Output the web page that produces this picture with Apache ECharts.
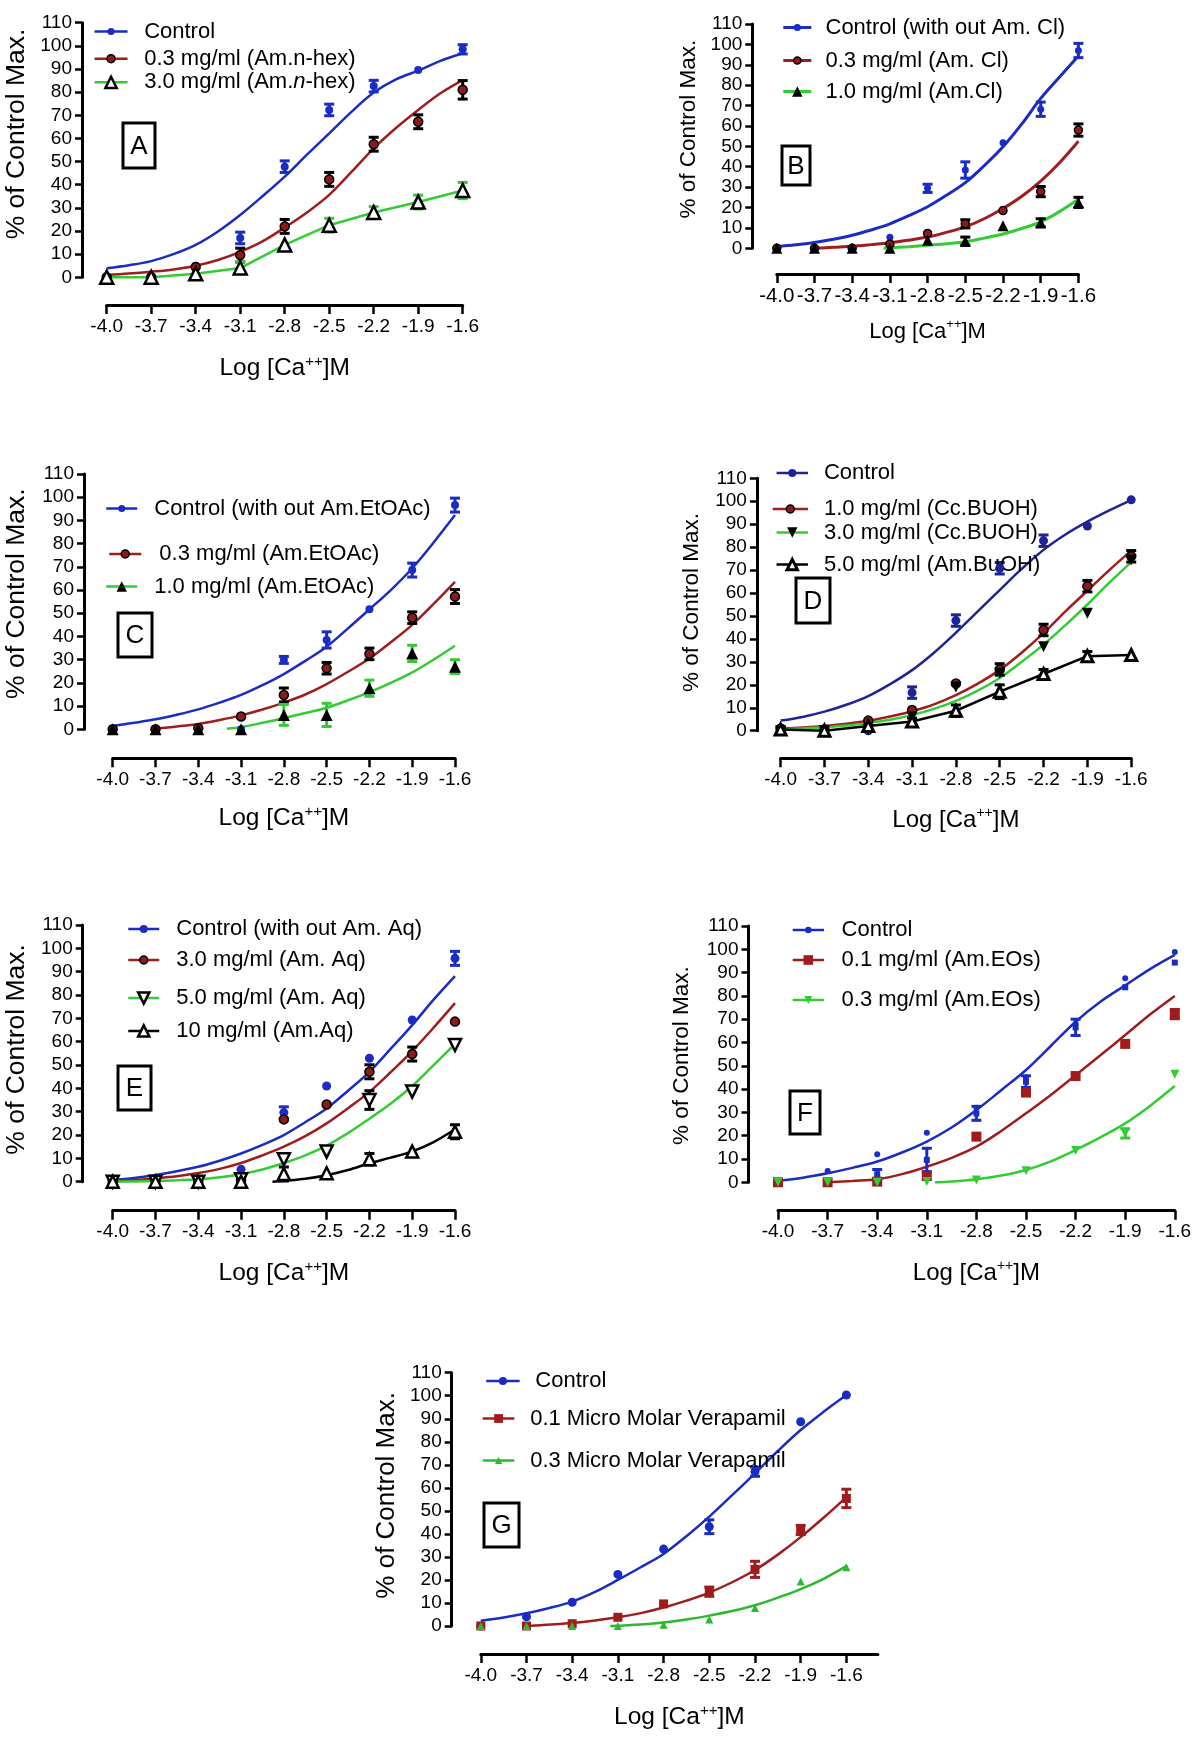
<!DOCTYPE html>
<html><head><meta charset="utf-8">
<script src="https://cdn.jsdelivr.net/npm/echarts@6/dist/echarts.min.js"></script>
<style>html,body{margin:0;padding:0;background:#fff}#c{width:1200px;height:1737px}</style>
</head><body><div id="c"></div>
<script>
// ---------------- data ----------------
const xTickLabels = ['-4.0','-3.7','-3.4','-3.1','-2.8','-2.5','-2.2','-1.9','-1.6'];
const xDose = [-4.0,-3.7,-3.4,-3.1,-2.8,-2.5,-2.2,-1.9,-1.6];
const fitX = [-4.0,-3.85,-3.7,-3.55,-3.4,-3.25,-3.1,-2.95,-2.8,-2.65,-2.5,-2.35,-2.2,-2.05,-1.9,-1.75,-1.6];
const yTitle = '% of Control Max.';
const xTitle = 'Log [Ca{sup|++}]M';

// Panel A
const A_ctrl = [0, 0, 5, 17, 47.8, 72.3, 82.6, 89.6, 98.5];
const A_ctrlErr = [0, 0, 0, 2.5, 2.5, 2.5, 2.5, 0, 2];
const A_ctrlFit = [3.9, 5.2, 7.0, 10.0, 14.0, 19.8, 26.9, 35.0, 43.5, 53.0, 62.2, 71.5, 79.8, 85.5, 89.3, 93.5, 96.8];
const A_hex03 = [0, 0, 4.5, 9.6, 22, 42.3, 57.5, 67.2, 81];
const A_hex03Err = [0, 0, 0, 3, 3, 3, 3, 3, 4];
const A_hex03Fit = [1, 1.6, 2.4, 3.4, 5, 7.5, 11, 15.5, 21.5, 28, 35.6, 45.5, 55.7, 64.5, 72.3, 79.5, 85.2];
const A_hex30 = [0, 0, 1.5, 4, 14, 22.5, 28, 32.5, 37.5];
const A_hex30Err = [0, 0, 0, 2.5, 0, 3, 2.5, 3, 3.5];

// Panel B
const B_ctrl = [0, 0, 0, 5.4, 29.4, 38.4, 51.8, 68.2, 97];
const B_ctrlErr = [0, 0, 0, 0, 2, 4, 0, 3.5, 3.5];
const B_ctrlFit = [0.8, 1.7, 2.8, 4.4, 6.4, 9, 12, 16, 20.4, 26, 32.2, 40.5, 49.8, 61, 73.5, 84, 94.3];
const B_cl03 = [0, 0, 0, 2, 7.3, 12, 18.5, 27.8, 58];
const B_cl03Err = [0, 0, 0, 0, 0, 2, 0, 2.5, 3];
const B_cl03Fit = [null, null, 0, 0.5, 1, 1.8, 2.7, 4, 5.5, 7.8, 10.5, 14.5, 19.5, 25.5, 33, 42, 52.5];
const B_cl10 = [0, 0, 0, 0, 4, 3.5, 11, 12.5, 22.5];
const B_cl10Err = [0, 0, 0, 0, 0, 2, 0, 2, 2.5];
const B_cl10Fit = [[-3.15,0],[-2.95,0.8],[-2.8,1.5],[-2.65,2.2],[-2.5,3.2],[-2.35,5],[-2.2,7],[-2.05,9.7],[-1.9,13],[-1.75,18],[-1.6,24]];

// Panel C
const C_ctrl = [0, 0, 0, 0, 29.9, 38.5, 51.7, 68.6, 96.6];
const C_ctrlErr = [0, 0, 0, 0, 1.5, 3.5, 0, 3, 3];
const C_ctrlFit = [1.4, 2.8, 4.3, 6.3, 8.6, 11.5, 14.8, 19, 23.8, 29.5, 35.6, 43.5, 51.7, 60, 69.4, 80.5, 92.3];
const C_et03 = [0, 0, 0.5, 5.5, 14.8, 26.3, 32.5, 48.1, 57.2];
const C_et03Err = [0, 0, 0, 0, 3, 2.5, 2.5, 2.5, 3];
const C_et03Fit = [null, null, 0.3, 1.2, 2.3, 4, 6, 8.5, 11.5, 15, 19.5, 24.8, 30.5, 37.5, 45, 54, 63.5];
const C_et10 = [0, 0, 0, 0, 6.2, 6.2, 17.7, 32.7, 27];
const C_et10Err = [0, 0, 0, 0, 4.5, 5, 3.5, 3.5, 3];
const C_et10Fit = [[-3.2,0.2],[-3.1,1],[-2.95,2.8],[-2.8,4.8],[-2.65,7],[-2.5,9.3],[-2.35,12.5],[-2.2,16],[-2.05,20],[-1.9,24.5],[-1.75,30],[-1.6,36]];

// Panel D
const D_ctrl = [0, 0, 0, 16.6, 48, 70.8, 82.8, 89.2, 100.6];
const D_ctrlErr = [0, 0, 0, 2.5, 2.5, 2.5, 2.5, 0, 0];
const D_ctrlFit = [4.4, 6, 8.3, 11.3, 15.1, 20.3, 26.4, 34, 42.7, 52, 61.3, 70.5, 78.8, 85.5, 91.1, 96, 100.5];
const D_bu10 = [1, 0.5, 4.4, 9, 20.6, 26.7, 43.9, 63, 76];
const D_bu10Err = [0, 0, 0, 0, 0, 2.5, 2.5, 2.5, 2.5];
const D_bu10Fit = [1, 1.4, 2, 3, 4.3, 6.2, 8.5, 11.5, 15.5, 20.5, 26.5, 34, 42.5, 52, 61, 70, 78.5];
const D_bu30 = [0, 0, 0.5, 6, 19, 25, 36.6, 51.2, 74.4];
const D_bu30Fit = [0.5, 1, 1.5, 2.3, 3.3, 4.8, 6.8, 9.5, 13, 17.5, 23, 30, 37.5, 46, 55, 64.5, 73.5];
const D_bu50 = [0.5, 0, 2, 4, 8.7, 17, 24.7, 32.5, 33];
const D_bu50Err = [1, 0, 0, 1.5, 2.5, 3, 2, 2, 0];

// Panel E
const E_ctrl = [0.5, 0, 0, 5.3, 29.6, 41, 52.9, 69.3, 95.7];
const E_ctrlErr = [0, 0, 0, 0, 2.5, 0, 0, 0, 3];
const E_ctrlFit = [0.7, 1.6, 2.9, 4.5, 6.4, 9, 12.1, 15.8, 20, 25.5, 31.4, 39, 47.1, 57, 67.1, 78, 88.1];
const E_aq3 = [0, 0.5, 0, 0.5, 26.7, 33.1, 47.1, 54.7, 68.6];
const E_aq3Err = [0, 0, 0, 0, 0, 0, 3, 3, 0];
const E_aq3Fit = [0.3, 0.7, 1.4, 2.3, 3.7, 5.5, 8, 11.3, 15, 19.5, 25, 31.5, 38.5, 47, 56, 66, 76.5];
const E_aq5 = [0, 0, 0, 1, 9.6, 12.9, 35, 38.6, 58.6];
const E_aq5Err = [0, 0, 0, 0, 0, 0, 4, 0, 0];
const E_aq5Fit = [0, 0.1, 0.3, 0.6, 1, 1.9, 3.2, 5.2, 8, 11.3, 15.5, 20.8, 27, 33.5, 41, 50, 59];
const E_aq10 = [0, 0, 0, 0, 3.3, 3.6, 9.6, 12.9, 21.4];
const E_aq10Err = [0, 0, 0, 1.5, 3, 0, 2.5, 0, 3];
const E_aq10Fit = [[-2.88,0],[-2.8,0.4],[-2.65,1.3],[-2.5,2.8],[-2.35,5],[-2.2,7.9],[-2.05,10.3],[-1.9,13],[-1.75,17],[-1.6,22.5]];

// Panel F
const F_ctrl = [0.5, 4.9, 12, 21.3, 32, 45, 68, 87.6, 98.8];
const F_ctrlFit = [0.7, 2, 3.9, 6.2, 8.9, 12.8, 17.5, 23.5, 31, 39.5, 48.2, 58.5, 68.9, 77.5, 84.5, 91.5, 97.6];
const F_ctrlSem = [null, null, 3.5, 9.6, 29.6, 43.2, 66.5, 83.7, 94.3];
const F_ctrlSemErr = [0, 0, 2, 5, 3, 2.5, 3.5, 0, 0];
const F_eo01 = [0, 0, 0.3, 2.7, 19.6, 38.5, 45.6, 59.4, 72.2];
const F_eo01Err = [0, 0, 0, 0, 0, 0, 0, 0, 2];
const F_eo01Fit = [null, null, 0, 0.6, 1.3, 3.5, 6.7, 10.5, 15.3, 22, 29.6, 37.5, 46, 54.5, 63.2, 72, 80];
const F_eo03 = [0, 0, 0, 0.3, 1, 5, 13.6, 21, 46.4];
const F_eo03Err = [0, 0, 0, 0, 0, 0, 0, 2, 0];
const F_eo03Fit = [[-3.05,0],[-2.95,0.3],[-2.8,1.3],[-2.65,2.9],[-2.5,5.3],[-2.35,9],[-2.2,13.9],[-2.05,19.3],[-1.9,25.3],[-1.75,32.8],[-1.6,41.3]];

// Panel G
const G_ctrl = [0, 4, 10.3, 22.4, 33.4, 43.1, 67, 88.7, 100.3];
const G_ctrlErr = [0, 0, 0, 0, 0, 3, 2, 0, 0];
const G_ctrlFit = [2.3, 3.7, 5.5, 7.8, 10.6, 14.8, 20, 25.5, 31.3, 39, 47.5, 56.8, 66.3, 76, 85.1, 93, 100.3];
const G_ver01 = [0, 0, 1, 3.8, 9.6, 14.9, 24.6, 41.7, 55.4];
const G_ver01Err = [0, 0, 0, 0, 0, 2, 3.5, 2, 4];
const G_ver01Fit = [null, null, 0, 0.6, 1.3, 2.4, 3.8, 5.6, 8, 11, 14.5, 19, 24.3, 31, 38.6, 47, 56];
const G_ver03 = [0, 0, 0, 0, 0.5, 2.8, 7.8, 19.3, 25.5];
const G_ver03Fit = [[-3.15,0],[-2.95,0.7],[-2.8,1.5],[-2.65,2.8],[-2.5,4.5],[-2.35,6.5],[-2.2,9],[-2.05,12.3],[-1.9,16],[-1.75,20.5],[-1.6,26]];

// ---------------- styles / layout ----------------
const FONT = '"Liberation Sans", Arial, Helvetica, sans-serif';
const BLUE = '#1b2cc4', NAVY = '#1e2496', RED = '#a01d1d', DRED = '#8c1a1a', GREEN = '#33cc33', BLACK = '#000';
const LEG_FS = 22;
const TICK_FS = 19;

const panels = [
 { id:'A', grid:[106.7,22.7,356,254.6], xMax:-1.6, yOff:24.7, xOff:27.7, xGap:49, xFs:24.5, xTickFs:TICK_FS, yGap:52, yFs:26.5, yShift:16, box:[123,123,32,45],
   sets:[
    {label:'Control', pts:A_ctrl, err:A_ctrlErr, fit:A_ctrlFit, sym:'circle', size:8, fill:BLUE, border:BLUE, bw:0, line:BLUE, lw:2.5, errC:BLUE, lg:[93.3,25,33,16.6,9]},
    {label:'0.3 mg/ml (Am.n-hex)', pts:A_hex03, err:A_hex03Err, fit:A_hex03Fit, sym:'circle', size:9, fill:DRED, border:BLACK, bw:1.5, line:RED, lw:2.5, errC:BLACK, lg:[93.3,52.7,33,16.6,10]},
    {label:'3.0 mg/ml (Am.{i|n}-hex)', pts:A_hex30, err:A_hex30Err, fit:'connect', sym:'triangle', size:13, fill:'#fff', border:BLACK, bw:2.5, line:GREEN, lw:2.5, errC:GREEN, lg:[93.3,78.3,33,16.6,14]}
   ]},
 { id:'B', grid:[776.8,24,301.6,224.3], xMax:-1.6, yOff:24.5, xOff:25.7, xGap:44, xFs:22, xTickFs:20.5, yGap:52.3, yFs:22.5, yShift:7, box:[782,146,28,39],
   sets:[
    {label:'Control (with out Am. Cl)', pts:B_ctrl, err:B_ctrlErr, fit:B_ctrlFit, sym:'circle', size:7, fill:BLUE, border:BLUE, bw:0, line:BLUE, lw:3, errC:BLUE, lg:[781.8,21,28,14.2,9]},
    {label:'0.3 mg/ml (Am. Cl)', pts:B_cl03, err:B_cl03Err, fit:B_cl03Fit, sym:'circle', size:8, fill:DRED, border:BLACK, bw:1.5, line:RED, lw:3, errC:BLACK, lg:[781.8,54,28,14.2,9]},
    {label:'1.0 mg/ml (Am.Cl)', pts:B_cl10, err:B_cl10Err, fit:B_cl10Fit, sym:'triangle', size:11, fill:BLACK, border:BLACK, bw:0, line:GREEN, lw:3, errC:BLACK, lg:[781.8,87,28,14.2,13]}
   ]},
 { id:'C', grid:[112.7,474,342.3,255.3], xMax:-1.6, yOff:28.7, xOff:29, xGap:45.7, xFs:24.5, xTickFs:TICK_FS, yGap:54, yFs:26.5, yShift:8, box:[118,613,34,44],
   sets:[
    {label:'Control (with out Am.EtOAc)', pts:C_ctrl, err:C_ctrlErr, fit:C_ctrlFit, sym:'circle', size:8, fill:BLUE, border:BLUE, bw:0, line:BLUE, lw:2.5, errC:BLUE, lg:[105,502,31,17,9]},
    {label:' 0.3 mg/ml (Am.EtOAc)', pts:C_et03, err:C_et03Err, fit:C_et03Fit, sym:'circle', size:9, fill:DRED, border:BLACK, bw:1.5, line:RED, lw:2.5, errC:BLACK, lg:[108,548,32,12,10]},
    {label:'1.0 mg/ml (Am.EtOAc)', pts:C_et10, err:C_et10Err, fit:C_et10Fit, sym:'triangle', size:12, fill:BLACK, border:BLACK, bw:0, line:GREEN, lw:2.5, errC:GREEN, lg:[105,582,31,17,13]}
   ]},
 { id:'D', grid:[780.6,478.3,350.6,252.4], xMax:-1.6, yOff:23.7, xOff:27.6, xGap:47.7, xFs:24, xTickFs:TICK_FS, yGap:53.9, yFs:22.5, yShift:2, box:[796,578,34,45],
   sets:[
    {label:'Control', pts:D_ctrl, err:D_ctrlErr, fit:D_ctrlFit, sym:'circle', size:9, fill:NAVY, border:NAVY, bw:0, line:NAVY, lw:2.5, errC:NAVY, lg:[775.3,467,31.4,16,10]},
    {label:'1.0 mg/ml (Cc.BUOH)', pts:D_bu10, err:D_bu10Err, fit:D_bu10Fit, sym:'circle', size:9, fill:DRED, border:BLACK, bw:1.5, line:RED, lw:2.5, errC:BLACK, lg:[771.5,503,35.2,16,10]},
    {label:'3.0 mg/ml (Cc.BUOH)', pts:D_bu30, err:null, fit:D_bu30Fit, sym:'triangle', rot:180, size:11, fill:BLACK, border:BLACK, bw:0, line:GREEN, lw:2.5, errC:BLACK, lg:[775.3,528,31.4,16,13]},
    {label:'5.0 mg/ml (Am.BuOH)', pts:D_bu50, err:D_bu50Err, fit:'connect', sym:'triangle', size:11, fill:'#fff', border:BLACK, bw:3, line:BLACK, lw:2.5, errC:BLACK, lg:[775.3,560,31.4,16,13]}
   ]},
 { id:'E', grid:[112.7,925,342.3,256.7], xMax:-1.6, yOff:30, xOff:29, xGap:48.3, xFs:24.5, xTickFs:TICK_FS, yGap:52.7, yFs:26.5, yShift:4, box:[118,1066,33,44],
   sets:[
    {label:'Control (with out Am. Aq)', pts:E_ctrl, err:E_ctrlErr, fit:E_ctrlFit, sym:'circle', size:9, fill:BLUE, border:BLUE, bw:0, line:BLUE, lw:2.5, errC:BLUE, lg:[127,923,31,17,10]},
    {label:'3.0 mg/ml (Am. Aq)', pts:E_aq3, err:E_aq3Err, fit:E_aq3Fit, sym:'circle', size:9, fill:DRED, border:BLACK, bw:1.5, line:RED, lw:2.5, errC:BLACK, lg:[127,954,31,17,10]},
    {label:'5.0 mg/ml (Am. Aq)', pts:E_aq5, err:E_aq5Err, fit:E_aq5Fit, sym:'triangle', rot:180, size:12, fill:'#fff', border:BLACK, bw:2.5, line:GREEN, lw:2.5, errC:BLACK, lg:[127,994,31,17,14]},
    {label:'10 mg/ml (Am.Aq)', pts:E_aq10, err:E_aq10Err, fit:E_aq10Fit, sym:'triangle', size:12, fill:'#fff', border:BLACK, bw:2.5, line:BLACK, lw:2.5, errC:BLACK, lg:[127,1027,31,17,14]}
   ]},
 { id:'F', grid:[778,926,396.8,256.3], xMax:-1.6, yOff:29.5, xOff:28.4, xGap:48.3, xFs:24, xTickFs:TICK_FS, yGap:55, yFs:22.5, yShift:-1.5, box:[790,1091,30,43],
   sets:[
    {label:'Control', pts:F_ctrl, err:null, fit:F_ctrlFit, sym:'circle', size:6, fill:BLUE, border:BLUE, bw:0, line:BLUE, lw:2.5, errC:BLUE, lg:[791.4,923,31.3,17.6,8]},
    {label:null, pts:F_ctrlSem, err:F_ctrlSemErr, fit:null, sym:'rect', size:6, fill:BLUE, border:BLUE, bw:0, line:BLUE, lw:2.5, errC:BLUE},
    {label:'0.1 mg/ml (Am.EOs)', pts:F_eo01, err:F_eo01Err, fit:F_eo01Fit, sym:'rect', size:10, fill:'#a01c1c', border:'#a01c1c', bw:0, line:RED, lw:2.5, errC:RED, lg:[791.4,955,31.3,17.6,12]},
    {label:'0.3 mg/ml (Am.EOs)', pts:F_eo03, err:F_eo03Err, fit:F_eo03Fit, sym:'triangle', rot:180, size:9, fill:GREEN, border:GREEN, bw:0, line:GREEN, lw:2.5, errC:GREEN, lg:[791.4,994,31.3,17.6,10]}
   ]},
 { id:'G', grid:[480.8,1372.7,397.1,253.3], xMax:-1.393, yOff:29.1, xOff:28, xGap:49, xFs:24.5, xTickFs:TICK_FS, yGap:51.9, yFs:26, yShift:4, box:[484,1503,35,44],
   sets:[
    {label:'Control', pts:G_ctrl, err:G_ctrlErr, fit:G_ctrlFit, sym:'circle', size:9, fill:BLUE, border:BLUE, bw:0, line:BLUE, lw:2.5, errC:BLUE, lg:[485,1375,33.4,15.7,10]},
    {label:'0.1 Micro Molar Verapamil', pts:G_ver01, err:G_ver01Err, fit:G_ver01Fit, sym:'rect', size:9, fill:'#a01c1c', border:'#a01c1c', bw:0, line:RED, lw:2.5, errC:RED, lg:[481.5,1413,31.6,15.8,11]},
    {label:'0.3 Micro Molar Verapamil', pts:G_ver03, err:null, fit:G_ver03Fit, sym:'triangle', size:8, fill:'#2db82d', border:'#2db82d', bw:0, line:'#2db82d', lw:2.5, errC:GREEN, lg:[481.5,1454,31.6,15.8,9]}
   ]}
];

// ---------------- build option ----------------
function fitPairs(fit) {
  if (Array.isArray(fit[0])) return fit;
  const out = [];
  fit.forEach((v, i) => { if (v != null) out.push([fitX[i], v]); });
  return out;
}
function errRender(color) {
  return function (params, api) {
    const x = api.value(0), y = api.value(1), e = api.value(2);
    const t = api.coord([x, y + e]), b = api.coord([x, y - e]);
    const cap = 5, st = { stroke: color, lineWidth: 3 };
    return { type: 'group', children: [
      { type: 'line', shape: { x1: t[0], y1: t[1], x2: b[0], y2: b[1] }, style: st },
      { type: 'line', shape: { x1: t[0] - cap, y1: t[1], x2: t[0] + cap, y2: t[1] }, style: st },
      { type: 'line', shape: { x1: b[0] - cap, y1: b[1], x2: b[0] + cap, y2: b[1] }, style: st }
    ]};
  };
}
function xLabel(v) {
  const i = xDose.findIndex(d => Math.abs(d - v) < 1e-6);
  return i >= 0 ? xTickLabels[i] : '';
}

const grids = [], xAxes = [], yAxes = [], series = [], legends = [], graphics = [];
panels.forEach((p, gi) => {
  grids.push({ left: p.grid[0], top: p.grid[1], width: p.grid[2], height: p.grid[3], containLabel: false });
  xAxes.push({
    gridIndex: gi, type: 'value', min: -4.0, max: p.xMax, interval: 0.3, offset: p.xOff,
    axisLine: { show: true, onZero: false, lineStyle: { color: '#000', width: 3 } },
    axisTick: { show: true, length: 9, customValues: xDose, lineStyle: { color: '#000', width: 2.5 } },
    axisLabel: { customValues: xDose, formatter: xLabel, fontSize: p.xTickFs, color: '#000', fontFamily: FONT, margin: 12 },
    splitLine: { show: false },
    name: xTitle, nameLocation: 'middle', nameGap: p.xGap,
    nameTextStyle: { fontSize: p.xFs, color: '#000', fontFamily: FONT, lineHeight: 28,
      rich: { sup: { fontSize: Math.round(p.xFs * 0.6), fontFamily: FONT, color: '#000', verticalAlign: 'top', lineHeight: 14 } } }
  });
  yAxes.push({
    gridIndex: gi, type: 'value', min: 0, max: 110, interval: 10, offset: p.yOff,
    axisLine: { show: true, onZero: false, lineStyle: { color: '#000', width: 3 } },
    axisTick: { show: true, length: 7, lineStyle: { color: '#000', width: 2.5 } },
    axisLabel: { fontSize: TICK_FS, color: '#000', fontFamily: FONT, margin: 10 },
    splitLine: { show: false },
    name: yTitle, nameLocation: 'middle', nameGap: p.yGap, nameRotate: 90,
    nameTextStyle: { fontSize: p.yFs, color: '#000', fontFamily: FONT,
      padding: p.yShift >= 0 ? [0, 0, 0, 2 * p.yShift] : [0, -2 * p.yShift, 0, 0] }
  });

  p.sets.forEach((s, k) => {
    const sname = p.id + k;
    if (s.fit) {
      const data = s.fit === 'connect' ? xDose.map((x, i) => [x, s.pts[i]]) : fitPairs(s.fit);
      series.push({
        type: 'line', name: sname, xAxisIndex: gi, yAxisIndex: gi, data,
        smooth: s.fit === 'connect' ? false : 0.35, showSymbol: false,
        symbol: s.sym, symbolSize: s.size, symbolRotate: s.rot || 0,
        lineStyle: { color: s.line, width: s.lw },
        itemStyle: { color: s.fill, borderColor: s.border, borderWidth: s.bw },
        clip: false, z: 2, silent: true
      });
    }
    if (s.err) {
      series.push({
        type: 'custom', name: sname + 'err', xAxisIndex: gi, yAxisIndex: gi,
        data: xDose.map((x, i) => [x, s.pts[i], s.err[i]]).filter(d => d[1] != null && d[2] > 0),
        renderItem: errRender(s.errC), z: 3, silent: true, clip: false
      });
    }
    series.push({
      type: 'scatter', name: sname + 'pts', xAxisIndex: gi, yAxisIndex: gi,
      data: xDose.map((x, i) => [x, s.pts[i]]).filter(d => d[1] != null),
      symbol: s.sym, symbolSize: s.size, symbolRotate: s.rot || 0,
      itemStyle: { color: s.fill, borderColor: s.border, borderWidth: s.bw, opacity: 1 },
      clip: false, z: 4, silent: true
    });
    if (s.label && s.lg) {
      const [lx, ly, len, gap, ih] = s.lg;
      const label = s.label;
      legends.push({
        show: true, orient: 'vertical', left: lx, top: ly - ih / 2, padding: 0, itemGap: 0,
        itemWidth: len, itemHeight: ih, selectedMode: false,
        data: [{ name: sname,
          itemStyle: { color: s.fill, borderColor: s.border, borderWidth: s.bw },
          lineStyle: { color: s.line, width: s.lw } }],
        formatter: () => label,
        textStyle: { fontSize: LEG_FS, color: '#000', fontFamily: FONT, lineHeight: ih,
          padding: [0, 0, 0, Math.max(0, gap - 5)],
          rich: { i: { fontStyle: 'italic', fontSize: LEG_FS, fontFamily: FONT, color: '#000', lineHeight: ih } } }
      });
    }
  });

  const [bx, by, bw, bh] = p.box;
  graphics.push({ type: 'rect', shape: { x: bx, y: by, width: bw, height: bh }, style: { fill: 'none', stroke: '#000', lineWidth: 3 }, z: 10 });
  graphics.push({ type: 'text', x: bx + bw / 2, y: by + bh / 2 + 1, style: { text: p.id, font: '26px ' + FONT, fill: '#000', align: 'center', verticalAlign: 'middle' }, z: 10 });
});

const chart = echarts.init(document.getElementById('c'), null, { renderer: 'canvas' });
chart.setOption({
  backgroundColor: '#fff', animation: false,
  grid: grids, xAxis: xAxes, yAxis: yAxes, series, legend: legends, graphic: graphics
});
</script></body></html>
